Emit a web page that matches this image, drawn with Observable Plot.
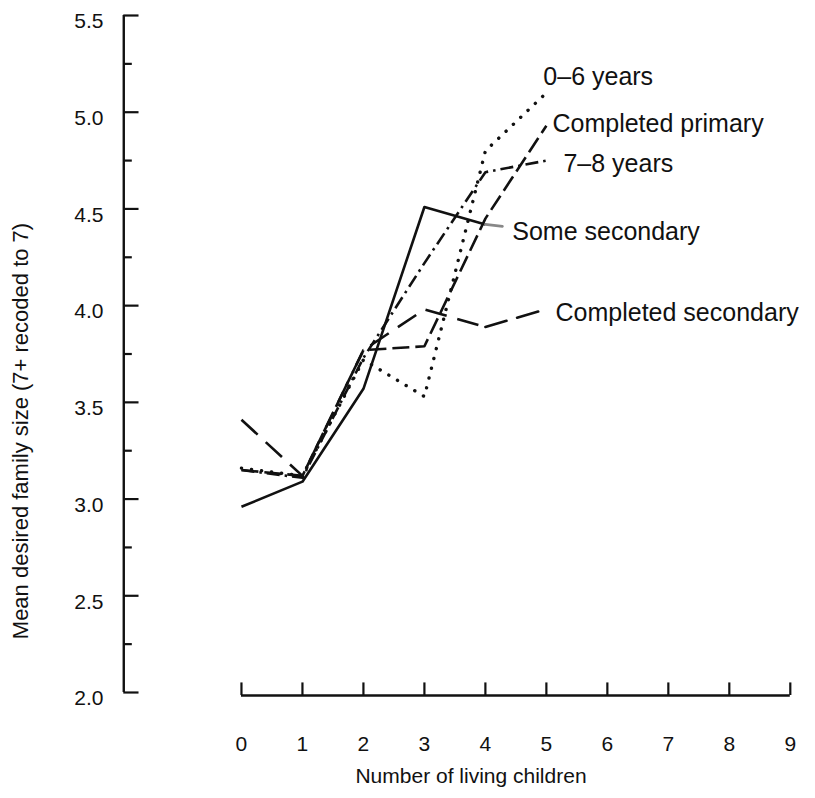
<!DOCTYPE html>
<html>
<head>
<meta charset="utf-8">
<script src="https://cdn.jsdelivr.net/npm/d3@7"></script>
<script src="https://cdn.jsdelivr.net/npm/@observablehq/plot@0.6"></script>
<style>
  html, body { margin: 0; padding: 0; background: #fff; }
  #chart svg { display: block; }
</style>
</head>
<body>
<div id="chart"></div>
<script>
// Number of living children (x) for each group
const children = [0, 1, 2, 3, 4, 5];

// Mean desired family size by mother's schooling
const age0to6 = [3.16, 3.12, 3.72, 3.53, 4.80, 5.10];
const completedPrimary = [3.15, 3.12, 3.77, 3.79, 4.45, 4.93];
const age7to8 = [3.15, 3.11, 3.73, 4.22, 4.69, 4.75];
const someSecondary = [2.96, 3.09, 3.57, 4.51, 4.42];
const completedSecondary = [3.41, 3.12, 3.77, 3.98, 3.89];

const seriesNames = ["0–6 years", "Completed primary", "7–8 years", "Some secondary", "Completed secondary"];
const seriesValues = [age0to6, completedPrimary, age7to8, someSecondary, completedSecondary];
const seriesDash = ["0.1 10", "17 6", "13 5 2.5 5", null, "22 11"];
const seriesCap = ["round", "butt", "butt", "butt", "butt"];
const seriesWidth = [3.4, 2.6, 2.6, 2.6, 2.6];

// Where each series label sits (data units)
const labelX = [4.95, 5.10, 5.28, 4.44, 5.15];
const labelY = [5.18, 4.94, 4.73, 4.38, 3.96];

// Connectors from the end of a line to its label
const leaderSeries = ["Some secondary", "Completed secondary"];
const leaderToX = [4.28, 4.98];
const leaderToY = [4.41, 3.98];
const leaderColor = ["#888", "#111"];

// Axis ticks
const xTicks = [0, 1, 2, 3, 4, 5, 6, 7, 8, 9];
const yTicks = [2.0, 2.5, 3.0, 3.5, 4.0, 4.5, 5.0, 5.5];
const yMinorTicks = [2.25, 2.75, 3.25, 3.75, 4.25, 4.75, 5.25];

const xTitle = "Number of living children";
const yTitle = "Mean desired family size (7+ recoded to 7)";

// Long table: one row per point
const rows = seriesNames.flatMap((name, i) =>
  seriesValues[i].map((v, j) => ({series: name, children: children[j], value: v}))
);

const yAxisAt = -1.93; // x position of the vertical axis line
const ink = "#111";
const font = "'Liberation Sans', Arial, Helvetica, sans-serif";

const lineMarks = seriesNames.map((name, i) =>
  Plot.line(rows.filter(d => d.series === name), {
    x: "children", y: "value",
    stroke: ink, strokeWidth: seriesWidth[i],
    strokeDasharray: seriesDash[i],
    strokeLinecap: seriesCap[i],
    strokeLinejoin: "round"
  })
);

const leaderMarks = leaderSeries.map((name, k) => {
  const i = seriesNames.indexOf(name);
  const vals = seriesValues[i];
  const last = vals.length - 1;
  return Plot.line([
    {x: children[last], y: vals[last]},
    {x: leaderToX[k], y: leaderToY[k]}
  ], {x: "x", y: "y", stroke: leaderColor[k], strokeWidth: 2.6, strokeDasharray: seriesDash[i]});
});

const labels = seriesNames.map((name, i) => ({name, x: labelX[i], y: labelY[i]}));

const chart = Plot.plot({
  width: 815,
  height: 798,
  marginLeft: 119,
  marginRight: 13,
  marginTop: 15,
  marginBottom: 106,
  x: {domain: [-2, 9.2]},
  y: {domain: [2, 5.5]},
  style: {fontFamily: font, background: "#fff", color: ink},
  marks: [
    // vertical axis with inward ticks
    Plot.ruleX([yAxisAt], {y1: 2, y2: 5.5, stroke: ink, strokeWidth: 2.4}),
    Plot.ruleY(yTicks, {y: d => d, x1: yAxisAt, x2: yAxisAt + 0.25, stroke: ink, strokeWidth: 2.2}),
    Plot.ruleY(yMinorTicks, {y: d => d, x1: yAxisAt, x2: yAxisAt + 0.14, stroke: ink, strokeWidth: 2.2}),
    Plot.axisY(yTicks, {tickSize: 0, tickPadding: 16, dy: 6, fontSize: 21, label: null, tickFormat: d => d.toFixed(1)}),

    // horizontal axis with upward ticks
    Plot.ruleY([2], {x1: 0, x2: 9, dy: 3, stroke: ink, strokeWidth: 2.4}),
    Plot.ruleX(xTicks, {x: d => d, y1: 2, y2: 2.065, dy: 3, stroke: ink, strokeWidth: 2.2}),
    Plot.axisX(xTicks, {tickSize: 0, tickPadding: 44, fontSize: 21, label: null, tickFormat: d => String(d)}),

    // axis titles
    Plot.text([xTitle], {frameAnchor: "bottom", textAnchor: "middle", dx: 10, dy: 90, fontSize: 21, fill: ink}),
    Plot.text([yTitle], {frameAnchor: "left", textAnchor: "middle", rotate: -90, dx: -99, dy: 77, fontSize: 22, fill: ink}),

    ...lineMarks,
    ...leaderMarks,

    Plot.text(labels, {x: "x", y: "y", text: "name", textAnchor: "start", fontSize: 25, fill: ink})
  ]
});

document.getElementById("chart").appendChild(chart);
</script>
</body>
</html>
